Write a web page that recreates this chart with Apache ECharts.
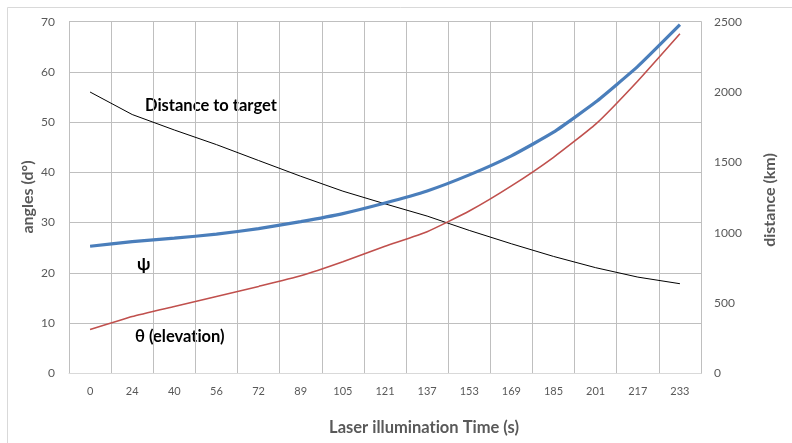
<!DOCTYPE html>
<html><head><meta charset="utf-8">
<script src="https://cdn.jsdelivr.net/npm/echarts@6/dist/echarts.min.js"></script>
<style>html,body{margin:0;padding:0;background:#fff}#c{width:792px;height:443px}</style>
</head><body><div id="c"></div>
<script>
var categories = ['0','24','40','56','72','89','105','121','137','153','169','185','201','217','233'];
var psi = [25.3, 26.2, 26.9, 27.7, 28.8, 30.2, 31.8, 33.9, 36.3, 39.5, 43.3, 48.0, 54.0, 61.1, 69.4];
var theta = [8.7, 11.3, 13.3, 15.3, 17.3, 19.4, 22.2, 25.3, 28.2, 32.3, 37.3, 43.0, 49.6, 58.2, 67.6];
var distance = [2000, 1840, 1730, 1626, 1513, 1401, 1295, 1205, 1118, 1016, 921, 831, 751, 684, 637];
var leftTicks = {min: 0, max: 70, step: 10};
var rightTicks = {min: 0, max: 2500, step: 500};

var FONT = 'Lato, "Open Sans", sans-serif';
var ZW = '\u200C';
function noLig(s) { return s.replace(/t(?=i)/g, 't' + ZW).replace(/f(?=[il])/g, 'f' + ZW); }
var chart = echarts.init(document.getElementById('c'), null, {renderer: 'canvas'});
chart.setOption({
  animation: false,
  backgroundColor: '#ffffff',
  grid: {left: 69, right: 91, top: 21.7, bottom: 69.7},
  xAxis: {
    type: 'category', data: categories, boundaryGap: true,
    axisLine: {show: true, lineStyle: {color: '#d9d9d9', width: 1}},
    axisTick: {show: false},
    splitLine: {show: true, interval: 0, lineStyle: {color: '#bfbfbf', width: 1}},
    axisLabel: {color: '#595959', fontSize: 11, fontFamily: FONT, margin: 13, interval: 0}
  },
  yAxis: [{
    type: 'value', min: leftTicks.min, max: leftTicks.max, interval: leftTicks.step,
    axisLine: {show: true, lineStyle: {color: '#bfbfbf'}}, axisTick: {show: false},
    splitLine: {show: true, lineStyle: {color: '#bfbfbf', width: 1}},
    axisLabel: {color: '#595959', fontSize: 12, fontFamily: FONT, margin: 14}
  }, {
    type: 'value', min: rightTicks.min, max: rightTicks.max, interval: rightTicks.step,
    axisLine: {show: true, lineStyle: {color: '#bfbfbf'}}, axisTick: {show: false},
    splitLine: {show: false},
    axisLabel: {color: '#595959', fontSize: 12, fontFamily: FONT, margin: 13,
      formatter: function (v) { return String(v); }}
  }],
  series: [
    {name: 'distance', type: 'line', yAxisIndex: 1, data: distance, symbol: 'none',
     lineStyle: {color: '#000000', width: 1}, z: 3},
    {name: 'theta', type: 'line', yAxisIndex: 0, data: theta, symbol: 'none', smooth: 0.15,
     lineStyle: {color: '#c0504d', width: 1.6}, z: 4},
    {name: 'psi', type: 'line', yAxisIndex: 0, data: psi, symbol: 'none', smooth: 0.15,
     lineStyle: {color: '#4a7ebb', width: 3.2}, z: 5}
  ],
  graphic: [
    {type: 'rect', shape: {x: 7.5, y: 7.5, width: 800, height: 450}, style: {fill: 'none', stroke: '#d9d9d9', lineWidth: 1}, z: -10, silent: true},
    {type: 'text', x: 145, y: 106, style: {text: 'Distance to target', font: 'bold 16.5px ' + FONT, fill: '#000', textVerticalAlign: 'middle'}},
    {type: 'text', x: 137, y: 265, style: {text: 'ψ', font: 'bold 17px ' + FONT, fill: '#000', textVerticalAlign: 'middle'}},
    {type: 'text', x: 135, y: 337, style: {text: noLig('θ (elevation)'), font: 'bold 16.5px ' + FONT, fill: '#000', textVerticalAlign: 'middle'}},
    {type: 'text', x: 28, y: 197, rotation: Math.PI / 2, style: {text: 'angles (d°)', font: 'bold 16px ' + FONT, fill: '#595959', textAlign: 'center', textVerticalAlign: 'middle'}},
    {type: 'text', x: 770, y: 200, rotation: Math.PI / 2, style: {text: 'distance (km)', font: 'bold 16px ' + FONT, fill: '#595959', textAlign: 'center', textVerticalAlign: 'middle'}},
    {type: 'text', x: 424, y: 428, style: {text: noLig('Laser illumination Time (s)'), font: 'bold 16.5px ' + FONT, fill: '#595959', textAlign: 'center', textVerticalAlign: 'middle'}}
  ]
});
</script></body></html>
